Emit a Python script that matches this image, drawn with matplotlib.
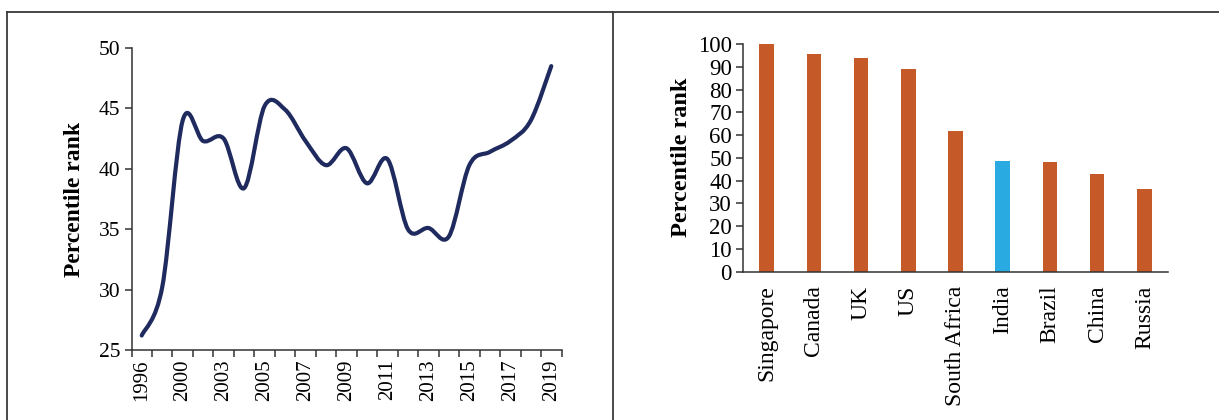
import matplotlib
matplotlib.use("Agg")
import matplotlib.pyplot as plt
from matplotlib.path import Path
from matplotlib.patches import PathPatch
from matplotlib.lines import Line2D

plt.rcParams['font.family'] = ['Liberation Serif', 'DejaVu Serif']

# left panel: percentile rank over time
years = ['1996', '1998', '2000', '2002', '2003', '2004', '2005', '2006', '2007',
         '2008', '2009', '2010', '2011', '2012', '2013', '2014', '2015', '2016',
         '2017', '2018', '2019']
rank_trend = [26.2, 30.2, 44.0, 42.3, 42.5, 38.4, 45.2, 44.9, 42.3, 40.3, 41.7,
              38.8, 40.8, 35.0, 35.1, 34.4, 40.3, 41.4, 42.3, 44.0, 48.5]

# right panel: country comparison
countries = ['Singapore', 'Canada', 'UK', 'US', 'South Africa', 'India',
             'Brazil', 'China', 'Russia']
rank_2019 = [100, 95.7, 93.8, 89, 61.7, 48.6, 48.1, 42.8, 36.1]
highlight = 'India'

ORANGE = '#C55A28'
BLUE = '#29ABE2'
NAVY = '#1F2A5E'
AXC = '#333333'


def smooth_path(xs, ys):
    # Excel-style smoothed line: Catmull-Rom segments drawn as cubic Beziers
    pts = list(zip(xs, ys))
    n = len(pts)
    verts = [pts[0]]
    codes = [Path.MOVETO]
    for i in range(n - 1):
        p0 = pts[i - 1] if i > 0 else pts[i]
        p1 = pts[i]
        p2 = pts[i + 1]
        p3 = pts[i + 2] if i + 2 < n else pts[i + 1]
        c1 = (p1[0] + (p2[0] - p0[0]) / 6, p1[1] + (p2[1] - p0[1]) / 6)
        c2 = (p2[0] - (p3[0] - p1[0]) / 6, p2[1] - (p3[1] - p1[1]) / 6)
        verts += [c1, c2, p2]
        codes += [Path.CURVE4] * 3
    return Path(verts, codes)


fig = plt.figure(figsize=(12.19, 4.20), dpi=100)

# frame lines around the two panels
for seg in [([6.5 / 1219, 1], [1 - 12 / 420] * 2),
            ([6.5 / 1219] * 2, [0, 1 - 12 / 420]),
            ([613 / 1219] * 2, [0, 1 - 12 / 420])]:
    fig.add_artist(Line2D(seg[0], seg[1], color='#3a3a3a', lw=1.3,
                          transform=fig.transFigure))

# ---- left: line chart ----
ax1 = fig.add_axes([131.5 / 1219, 1 - 350 / 420, 430 / 1219, 302 / 420])
x = list(range(len(years)))
ax1.add_patch(PathPatch(smooth_path(x, rank_trend), fill=False, edgecolor=NAVY,
                        lw=3.0, capstyle='round', joinstyle='round'))
ax1.set_xlim(-0.5, len(years) - 0.5)
ax1.set_ylim(25, 50)
ax1.set_yticks(range(25, 51, 5))
ax1.set_xticks(x[::2])
ax1.set_xticklabels(years[::2], rotation=90)
ax1.set_xticks([i - 0.5 for i in range(len(years) + 1)], minor=True)
ax1.tick_params(axis='x', which='major', length=0, pad=7, labelsize=15)
ax1.tick_params(axis='x', which='minor', length=5, width=1.1, color=AXC)
ax1.tick_params(axis='y', length=5, width=1.1, color=AXC, labelsize=15.5, pad=3)
ax1.set_ylabel('Percentile rank', fontsize=17, fontweight='bold', labelpad=10)
for s in ['top', 'right']:
    ax1.spines[s].set_visible(False)
for s in ['left', 'bottom']:
    ax1.spines[s].set_color(AXC)
    ax1.spines[s].set_linewidth(1.1)

# ---- right: bar chart ----
ax2 = fig.add_axes([743 / 1219, 1 - 271.5 / 420, 425 / 1219, 227.5 / 420])
colors = [BLUE if c == highlight else ORANGE for c in countries]
ax2.bar(range(len(countries)), rank_2019, width=0.31, color=colors)
ax2.set_xlim(-0.5, len(countries) - 0.5)
ax2.set_ylim(0, 100)
ax2.set_yticks(range(0, 101, 10))
ax2.set_xticks(range(len(countries)))
ax2.set_xticklabels(countries, rotation=90)
ax2.tick_params(axis='x', length=0, pad=10, labelsize=17)
ax2.tick_params(axis='y', length=5, width=1.1, color=AXC, labelsize=16.5, pad=3)
ax2.set_ylabel('Percentile rank', fontsize=17.5, fontweight='bold', labelpad=4)
for s in ['top', 'right']:
    ax2.spines[s].set_visible(False)
for s in ['left', 'bottom']:
    ax2.spines[s].set_color(AXC)
    ax2.spines[s].set_linewidth(1.1)

fig.savefig('out.png', dpi=100)
